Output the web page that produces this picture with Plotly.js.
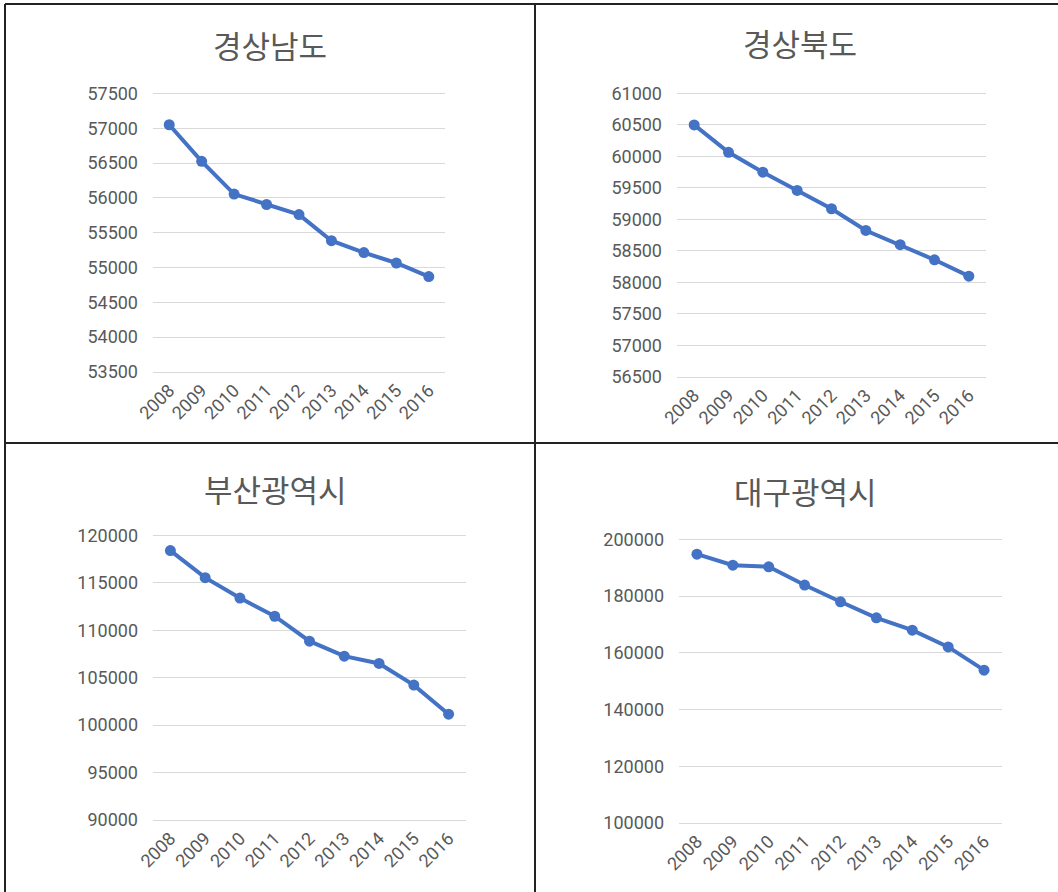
<!DOCTYPE html>
<html>
<head>
<meta charset="utf-8">
<script src="https://cdn.plot.ly/plotly-3.0.1.min.js"></script>
<style>html,body{margin:0;padding:0;background:#fff;}#chart{width:1058px;height:892px;}</style>
</head>
<body>
<div id="chart"></div>
<script>
// ---- data ----
const years = ["2008","2009","2010","2011","2012","2013","2014","2015","2016"];
const regionNames = ["경상남도","경상북도","부산광역시","대구광역시"];
const gyeongnam = [57050, 56525, 56055, 55905, 55760, 55385, 55215, 55065, 54870];
const gyeongbuk = [60500, 60065, 59750, 59460, 59170, 58825, 58600, 58360, 58100];
const busan     = [118400, 115550, 113400, 111480, 108850, 107270, 106500, 104220, 101150];
const daegu     = [194800, 190900, 190350, 183900, 178000, 172350, 168000, 162100, 153900];
const seriesList = [gyeongnam, gyeongbuk, busan, daegu];
const yRanges = [[53500,57500],[56500,61000],[90000,120000],[100000,200000]];
const yDticks = [500, 500, 5000, 20000];

// ---- layout (pixel boxes) ----
const W = 1058, H = 892;
const boxes = [
  {x0:153, x1:445, y0:92,  y1:372, tx:270, ty:45},
  {x0:677, x1:986, y0:92,  y1:377, tx:800, ty:42},
  {x0:153, x1:466, y0:534, y1:820, tx:275, ty:488},
  {x0:679, x1:1002,y0:538, y1:823, tx:805, ty:490}
];
const px = v => v / W;
const py = v => 1 - v / H;

const color = '#4472C4';
const tickFont = {family:'Roboto, "Liberation Sans", sans-serif', size:18, color:'#595959'};
const data = [];
const layout = {
  width: W, height: H,
  margin: {l:0, r:0, t:0, b:0},
  paper_bgcolor: '#ffffff', plot_bgcolor: '#ffffff',
  showlegend: false,
  annotations: [], shapes: []
};

seriesList.forEach((vals, i) => {
  const n = i + 1;
  const sfx = n === 1 ? '' : String(n);
  const b = boxes[i];
  const r = yRanges[i];
  const pad = (r[1] - r[0]) * 0.005; // keep the top gridline visible
  data.push({
    type: 'scatter', mode: 'lines+markers',
    x: years, y: vals,
    xaxis: 'x' + sfx, yaxis: 'y' + sfx,
    line: {color: color, width: 4},
    marker: {color: color, size: 11},
    hoverinfo: 'x+y'
  });
  layout['xaxis' + sfx] = {
    domain: [px(b.x0), px(b.x1)],
    anchor: 'y' + sfx,
    type: 'category',
    range: [-0.5, 8.5],
    showgrid: false, zeroline: false,
    showline: true, linecolor: '#d9d9d9', linewidth: 1,
    tickangle: -45, tickfont: tickFont, ticks: ''
  };
  layout['yaxis' + sfx] = {
    domain: [py(b.y1), py(b.y0)],
    anchor: 'x' + sfx,
    range: [r[0], r[1] + pad], dtick: yDticks[i], tick0: 0,
    showgrid: true, gridcolor: '#d9d9d9', gridwidth: 1,
    zeroline: false, showline: false, ticks: '',
    tickfont: tickFont, ticklabelstandoff: 14,
    tickformat: 'd'
  };
  layout.annotations.push({
    xref: 'paper', yref: 'paper', x: px(b.tx), y: py(b.ty),
    xanchor: 'center', yanchor: 'middle', showarrow: false,
    text: regionNames[i],
    font: {family: '"Noto Sans CJK KR", sans-serif', size: 31, color: '#595959'}
  });
});

// table borders
const border = {color: '#222222', width: 2};
layout.shapes.push(
  {type:'line', xref:'paper', yref:'paper', x0:px(5), x1:1, y0:py(4), y1:py(4), line:border},
  {type:'line', xref:'paper', yref:'paper', x0:px(5), x1:px(5), y0:py(4), y1:0, line:border},
  {type:'line', xref:'paper', yref:'paper', x0:px(535), x1:px(535), y0:py(4), y1:0, line:border},
  {type:'line', xref:'paper', yref:'paper', x0:px(5), x1:1, y0:py(443), y1:py(443), line:border}
);

Plotly.newPlot('chart', data, layout, {displayModeBar: false, staticPlot: true});
</script>
</body>
</html>
